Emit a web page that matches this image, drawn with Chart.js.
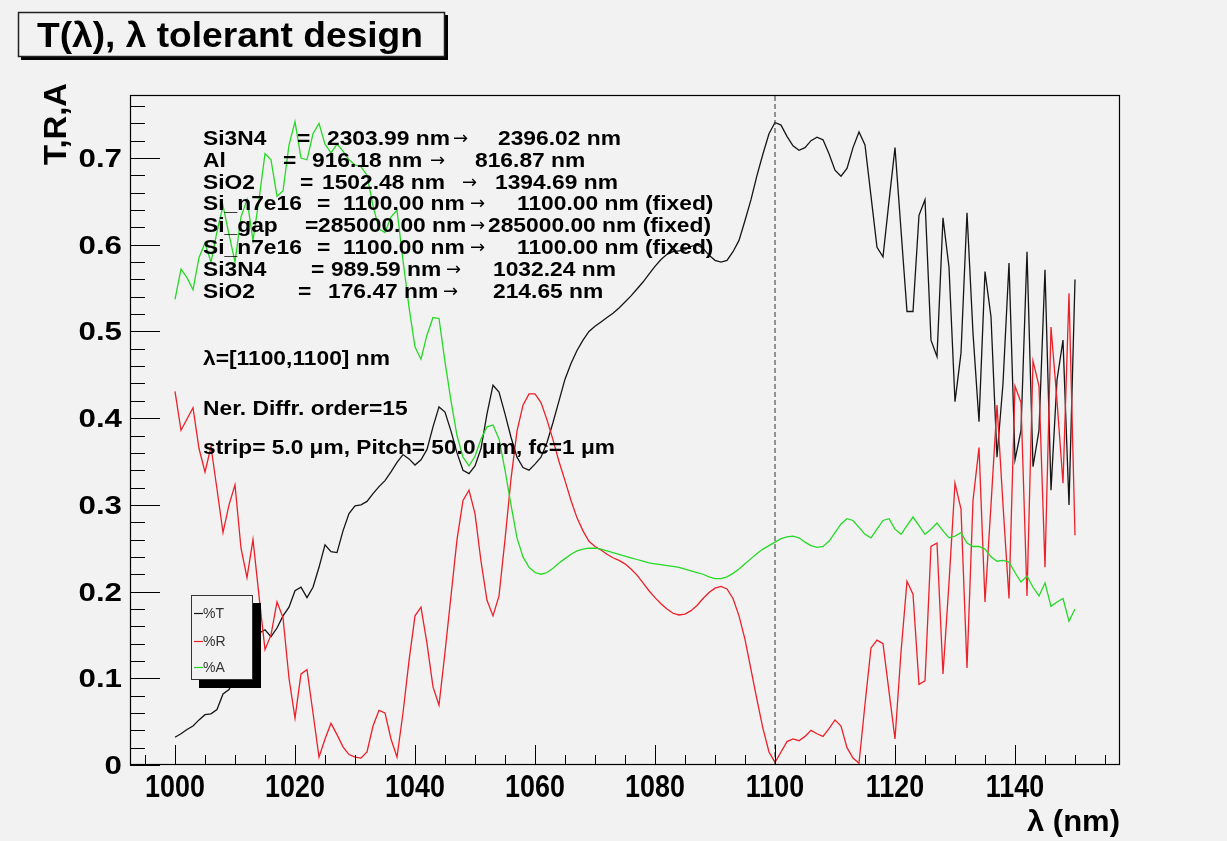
<!DOCTYPE html>
<html>
<head>
<meta charset="utf-8">
<title>T(λ), λ tolerant design</title>
<script src="https://cdn.jsdelivr.net/npm/chart.js@4.4.1/dist/chart.umd.min.js"></script>
<style>
  html, body { margin: 0; padding: 0; background: #f2f2f2; }
  canvas { display: block; }
</style>
</head>
<body>
<canvas id="c" width="1227" height="841"></canvas>
<script>
// ---- data -----------------------------------------------------------
// wavelength grid, 1 nm steps
const lambdaNm = [];
for (let l = 1000; l <= 1150; l++) lambdaNm.push(l);

// %T transmission
const transmission = [
  0.032, 0.036, 0.041, 0.045, 0.052, 0.058, 0.059, 0.064, 0.082, 0.087,
  0.100, 0.115, 0.130, 0.140, 0.152, 0.156, 0.148, 0.158, 0.172, 0.182,
  0.201, 0.205, 0.193, 0.205, 0.228, 0.254, 0.246, 0.245, 0.270, 0.290,
  0.299, 0.300, 0.304, 0.313, 0.321, 0.328, 0.338, 0.349, 0.358, 0.353,
  0.346, 0.352, 0.364, 0.390, 0.413, 0.407, 0.385, 0.360, 0.340, 0.336,
  0.345, 0.365, 0.405, 0.438, 0.430, 0.405, 0.378, 0.355, 0.343, 0.340,
  0.347, 0.355, 0.372, 0.395, 0.420, 0.445, 0.463, 0.478, 0.490, 0.500,
  0.506, 0.511, 0.516, 0.521, 0.527, 0.534, 0.541, 0.549, 0.557, 0.566,
  0.575, 0.583, 0.589, 0.592, 0.593, 0.594, 0.598, 0.600, 0.596, 0.588,
  0.582, 0.580, 0.582, 0.592, 0.605, 0.628, 0.652, 0.680, 0.705, 0.728,
  0.741, 0.738, 0.725, 0.714, 0.709, 0.712, 0.720, 0.724, 0.721, 0.705,
  0.686, 0.679, 0.688, 0.712, 0.730, 0.715, 0.656, 0.597, 0.586, 0.650,
  0.712, 0.617, 0.523, 0.523, 0.634, 0.652, 0.490, 0.471, 0.631, 0.574,
  0.419, 0.475, 0.637, 0.498, 0.396, 0.569, 0.517, 0.355, 0.440, 0.579,
  0.352, 0.386, 0.592, 0.344, 0.386, 0.571, 0.317, 0.444, 0.490, 0.300,
  0.560
];

// %R reflection
const reflection = [
  0.431, 0.386, 0.399, 0.412, 0.365, 0.338, 0.367, 0.318, 0.268, 0.300,
  0.323, 0.250, 0.216, 0.260, 0.195, 0.133, 0.150, 0.188, 0.170, 0.100,
  0.054, 0.105, 0.110, 0.060, 0.009, 0.030, 0.048, 0.035, 0.021, 0.012,
  0.009, 0.008, 0.015, 0.045, 0.063, 0.060, 0.030, 0.009, 0.060, 0.120,
  0.172, 0.182, 0.140, 0.090, 0.069, 0.130, 0.195, 0.260, 0.305, 0.317,
  0.290, 0.235, 0.190, 0.172, 0.195, 0.260, 0.330, 0.385, 0.415, 0.428,
  0.428, 0.418, 0.398, 0.375, 0.350, 0.328, 0.305, 0.285, 0.270, 0.258,
  0.252, 0.248, 0.243, 0.239, 0.236, 0.232, 0.226, 0.219, 0.210, 0.201,
  0.193, 0.186, 0.180, 0.175, 0.173, 0.174, 0.178, 0.184, 0.192, 0.199,
  0.204, 0.206, 0.203, 0.192, 0.172, 0.145, 0.110, 0.075, 0.042, 0.015,
  0.003, 0.015, 0.027, 0.030, 0.028, 0.033, 0.040, 0.036, 0.033, 0.042,
  0.052, 0.045, 0.020, 0.008, 0.002, 0.070, 0.135, 0.144, 0.140, 0.085,
  0.030, 0.130, 0.212, 0.197, 0.093, 0.097, 0.252, 0.256, 0.105, 0.210,
  0.325, 0.295, 0.112, 0.305, 0.366, 0.188, 0.300, 0.415, 0.300, 0.192,
  0.437, 0.418, 0.195, 0.466, 0.437, 0.228, 0.505, 0.420, 0.325, 0.544,
  0.265
];

// %A absorption
const absorption = [
  0.537, 0.572, 0.562, 0.548, 0.585, 0.602, 0.580, 0.615, 0.645, 0.612,
  0.580, 0.632, 0.652, 0.605, 0.652, 0.705, 0.698, 0.656, 0.662, 0.715,
  0.742, 0.700, 0.698, 0.728, 0.740, 0.716, 0.706, 0.716, 0.708, 0.698,
  0.692, 0.690, 0.680, 0.645, 0.618, 0.614, 0.632, 0.640, 0.582, 0.528,
  0.482, 0.468, 0.496, 0.516, 0.515, 0.465, 0.420, 0.380, 0.355, 0.345,
  0.356, 0.376, 0.390, 0.392, 0.376, 0.340, 0.300, 0.262, 0.240, 0.228,
  0.222, 0.220, 0.222, 0.227, 0.233, 0.238, 0.243, 0.247, 0.249, 0.250,
  0.250, 0.249, 0.247, 0.245, 0.243, 0.241, 0.239, 0.237, 0.235, 0.233,
  0.232, 0.231, 0.230, 0.229, 0.228, 0.226, 0.224, 0.222, 0.220, 0.217,
  0.215, 0.215, 0.217, 0.221, 0.226, 0.232, 0.238, 0.244, 0.249, 0.253,
  0.257, 0.261, 0.263, 0.264, 0.262, 0.257, 0.253, 0.251, 0.252, 0.258,
  0.268, 0.278, 0.284, 0.282, 0.274, 0.266, 0.262, 0.272, 0.282, 0.284,
  0.272, 0.266, 0.276, 0.286, 0.276, 0.266, 0.272, 0.279, 0.270, 0.262,
  0.264, 0.268, 0.256, 0.252, 0.252, 0.249, 0.240, 0.235, 0.236, 0.234,
  0.222, 0.211, 0.218, 0.205, 0.195, 0.210, 0.183, 0.188, 0.192, 0.166,
  0.180
];

// design wavelength marker
const designLambda = 1100;

// axis ranges and labelled ticks
const xRange = [992.5, 1157.5];
const yRange = [0, 0.7727];
const xTickValues = [1000, 1020, 1040, 1060, 1080, 1100, 1120, 1140];
const xTickLabels = ['1000', '1020', '1040', '1060', '1080', '1100', '1120', '1140'];
const yTickValues = [0, 0.1, 0.2, 0.3, 0.4, 0.5, 0.6, 0.7];
const yTickLabels = ['0', '0.1', '0.2', '0.3', '0.4', '0.5', '0.6', '0.7'];

// layer stack: thickness before -> after optimisation
const layerNames = ['Si3N4', 'Al', 'SiO2', 'Si_n7e16', 'Si_gap', 'Si_n7e16', 'Si3N4', 'SiO2'];
const layerFrom  = ['2303.99', '916.18', '1502.48', '1100.00', '285000.00', '1100.00', '989.59', '176.47'];
const layerTo    = ['2396.02', '816.87', '1394.69', '1100.00', '285000.00', '1100.00', '1032.24', '214.65'];
const layerFixed = [false, false, false, true, true, true, false, false];

const infoLines = [
  'λ=[1100,1100] nm',
  'Ner. Diffr. order=15',
  'strip= 5.0 μm, Pitch= 50.0 μm, fc=1 μm'
];

const titleText = 'T(λ), λ tolerant design';
const seriesNames = ['%T', '%R', '%A'];

// ---- styling --------------------------------------------------------
const BG = '#f2f2f2';
const COL_T = '#151515';
const COL_R = '#ec2028';
const COL_A = '#26d926';
const FONT = '"Liberation Sans", Arial, Helvetica, sans-serif';

function drawText(ctx, s, x, y, o) {
  ctx.save();
  ctx.font = `${o.weight || 'bold'} ${o.size}px ${o.family || FONT}`;
  ctx.fillStyle = o.color || '#000';
  ctx.textBaseline = 'alphabetic';
  ctx.textAlign = o.align || 'left';
  let hs = o.hs || 1;
  if (o.width) hs = o.width / ctx.measureText(s).width;
  ctx.translate(x, y);
  if (o.rotate) ctx.rotate(o.rotate);
  ctx.scale(hs, 1);
  ctx.fillText(s, 0, 0);
  ctx.restore();
}

// frame, inward ticks, labels, title, text block and legend in the ROOT look
const rootStyle = {
  id: 'rootStyle',
  beforeDraw(chart) {
    const { ctx, width, height } = chart;
    ctx.save();
    ctx.fillStyle = BG;
    ctx.fillRect(0, 0, width, height);
    ctx.restore();
  },
  afterDatasetsDraw(chart) {
    const { ctx, chartArea: a, scales: { x, y } } = chart;
    ctx.save();
    ctx.strokeStyle = '#000';
    ctx.lineWidth = 1;
    ctx.beginPath();
    for (const t of x.ticks) {
      const px = Math.round(x.getPixelForValue(t.value)) + 0.5;
      const len = t.major ? 20 : 10;
      ctx.moveTo(px, a.bottom);
      ctx.lineTo(px, a.bottom - len);
    }
    for (const t of y.ticks) {
      const py = Math.round(y.getPixelForValue(t.value)) + 0.5;
      const len = t.major ? 30 : 15;
      ctx.moveTo(a.left, py);
      ctx.lineTo(a.left + len, py);
    }
    ctx.stroke();
    ctx.lineWidth = 1.2;
    ctx.strokeRect(a.left + 0.5, a.top + 0.5, a.right - a.left - 1, a.bottom - a.top - 1);
    ctx.restore();

    // tick labels
    xTickValues.forEach((v, i) => {
      drawText(ctx, xTickLabels[i], x.getPixelForValue(v), 797, { size: 32, hs: 0.84, align: 'center' });
    });
    yTickValues.forEach((v, i) => {
      drawText(ctx, yTickLabels[i], 122, y.getPixelForValue(v) + 9, { size: 25, hs: 1.25, align: 'right' });
    });

    // axis titles
    drawText(ctx, 'λ (nm)', 1120, 831, { size: 30, width: 93, align: 'right' });
    drawText(ctx, 'T,R,A', 66, 124, { size: 32, width: 82, align: 'center', rotate: -Math.PI / 2 });

    // layer table
    const eqX    = [297, 283, 300, 317, 305, 317, 311, 298];
    const fromX  = [327, 312, 322, 343, 318, 343, 331, 328];
    const arrowX = [453, 430, 462, 470, 470, 470, 446, 443];
    const toX    = [498, 475, 495, 517, 488, 517, 493, 493];
    const txt = { size: 20, hs: 1.14 };
    layerNames.forEach((name, i) => {
      const base = 144.7 + 21.9 * i;
      drawText(ctx, name, 203, base, txt);
      drawText(ctx, '=', eqX[i], base, txt);
      drawText(ctx, layerFrom[i] + ' nm', fromX[i], base, txt);
      drawText(ctx, '→', arrowX[i], base - 1, { size: 18, weight: 'normal', family: '"DejaVu Sans", sans-serif' });
      drawText(ctx, layerTo[i] + ' nm' + (layerFixed[i] ? ' (fixed)' : ''), toX[i], base, txt);
    });
    drawText(ctx, infoLines[0], 203, 365, txt);
    drawText(ctx, infoLines[1], 203, 415, txt);
    drawText(ctx, infoLines[2], 203, 454, { size: 20, width: 412 });

    // legend with drop shadow
    const lx = 191, ly = 595, lw = 62, lh = 85, sh = 8;
    ctx.save();
    ctx.fillStyle = '#000';
    ctx.fillRect(lx + sh, ly + sh, lw, lh);
    ctx.fillStyle = BG;
    ctx.fillRect(lx, ly, lw, lh);
    ctx.strokeStyle = '#333';
    ctx.lineWidth = 1;
    ctx.strokeRect(lx + 0.5, ly + 0.5, lw - 1, lh - 1);
    const cols = [COL_T, COL_R, COL_A];
    const rows = [613, 641, 667];
    rows.forEach((ry, i) => {
      ctx.strokeStyle = cols[i];
      ctx.lineWidth = 1.2;
      ctx.beginPath();
      ctx.moveTo(194, ry + 0.5);
      ctx.lineTo(203, ry + 0.5);
      ctx.stroke();
      drawText(ctx, seriesNames[i], 203, ry + 5, { size: 14, weight: 'normal', color: '#333' });
    });
    ctx.restore();

    // title box with shadow
    ctx.save();
    ctx.fillStyle = '#000';
    ctx.fillRect(21, 15, 427, 45);
    ctx.fillStyle = BG;
    ctx.fillRect(18, 12, 427, 45);
    ctx.strokeStyle = '#222';
    ctx.lineWidth = 1.5;
    ctx.strokeRect(18.5, 12.5, 426, 44);
    ctx.restore();
    drawText(ctx, titleText, 37, 47, { size: 35, width: 386 });
  }
};

const ds = (label, data, color) => ({
  label, data, borderColor: color, borderWidth: 1.3,
  pointRadius: 0, tension: 0, fill: false
});

const hiddenAxis = {
  grid: { display: false, drawTicks: false, tickLength: 0 },
  border: { display: false },
  ticks: { display: false, padding: 0 }
};

new Chart(document.getElementById('c'), {
  type: 'line',
  data: {
    labels: lambdaNm,
    datasets: [
      {
        label: 'design λ',
        data: [{ x: designLambda, y: yRange[0] }, { x: designLambda, y: yRange[1] }],
        borderColor: '#333', borderWidth: 1, borderDash: [5, 3],
        pointRadius: 0, fill: false
      },
      ds(seriesNames[2], absorption, COL_A),
      ds(seriesNames[1], reflection, COL_R),
      ds(seriesNames[0], transmission, COL_T)
    ]
  },
  options: {
    responsive: false,
    animation: false,
    devicePixelRatio: 1,
    layout: { padding: { left: 130, top: 95, right: 107, bottom: 76 } },
    plugins: { legend: { display: false }, tooltip: { enabled: false } },
    scales: {
      x: {
        ...hiddenAxis,
        type: 'linear', min: xRange[0], max: xRange[1],
        afterBuildTicks(scale) {
          const t = [];
          for (let k = 199; k <= 231; k++) {
            const v = k * 5;
            t.push({ value: v, major: xTickValues.includes(v) });
          }
          scale.ticks = t;
        }
      },
      y: {
        ...hiddenAxis,
        type: 'linear', min: yRange[0], max: yRange[1],
        afterBuildTicks(scale) {
          const t = [];
          for (let k = 0; k <= 38; k++) t.push({ value: k / 50, major: k % 5 === 0 });
          scale.ticks = t;
        }
      }
    }
  },
  plugins: [rootStyle]
});
</script>
</body>
</html>
